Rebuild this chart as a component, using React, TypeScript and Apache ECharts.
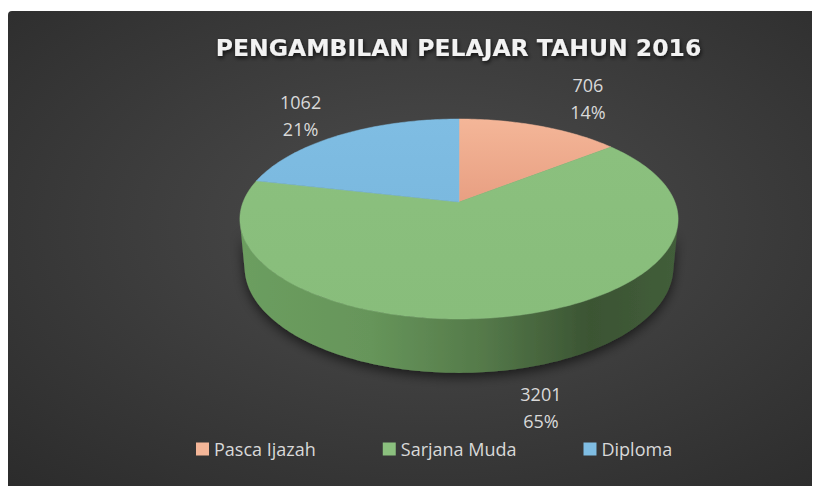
import { useEffect, useRef } from "react";
import * as echarts from "echarts";

const titleText = "PENGAMBILAN PELAJAR TAHUN 2016";
const categories = ["Pasca Ijazah", "Sarjana Muda", "Diploma"];
const values = [706, 3201, 1062];
const percentLabels = ["14%", "65%", "21%"];
const topColors = ["#f4b698", "#8bc07e", "#7fbde3"];
const topColorsDark = ["#e89f82", "#88bd7b", "#7bb9df"];
const sideColors = [
  ["#e39a7c", "#a8634a"],
  ["#6c9e5f", "#3b5433"],
  ["#6fa9cc", "#3f6a85"],
];

// perspective model of the 3D pie (chart coordinates)
const CX = 451;
const CY = 194;
const F = 1134;
const D = 5.252;
const SA = 0.4497;
const CA = 0.8932;
const T = 0.251;

function proj(theta: number, h: number): number[] {
  const X = Math.sin(theta);
  const Z = Math.cos(theta);
  const Y = h;
  const yp = Y * CA + Z * SA;
  const zp = -Y * SA + Z * CA;
  const k = F / (D + zp);
  return [CX + X * k, CY - yp * k];
}

function arcPts(a: number, b: number, h: number): number[][] {
  const n = Math.max(2, Math.ceil(((b - a) * 180) / Math.PI));
  const pts: number[][] = [];
  for (let i = 0; i <= n; i++) pts.push(proj(a + ((b - a) * i) / n, h));
  return pts;
}

export default function App() {
  const ref = useRef<HTMLDivElement>(null);
  useEffect(() => {
    if (!ref.current) return;
    const chart = echarts.init(ref.current, null, { renderer: "svg" });
    const total = values.reduce((s, v) => s + v, 0);
    const visA = Math.acos(-1 / (D * CA));
    const visB = 2 * Math.PI - visA;

    const makeRender = (idx: number) => (params: any, api: any) => {
      const v = api.value(0);
      const before = values.slice(0, idx).reduce((s, x) => s + x, 0);
      const a = (before / total) * Math.PI * 2;
      const b = a + (v / total) * Math.PI * 2;
      const children: any[] = [];
      const sa = Math.max(a, visA);
      const sb = Math.min(b, visB);
      if (sa < sb) {
        const top = arcPts(sa, sb, 0);
        const bot = arcPts(sa, sb, -T).reverse();
        children.push({
          type: "polygon",
          z2: 1,
          shape: { points: top.concat(bot) },
          style: {
            fill: {
              type: "linear",
              x: 0,
              y: 0,
              x2: 1,
              y2: 0,
              colorStops: [
                { offset: 0, color: sideColors[idx][0] },
                { offset: 0.3, color: idx === 1 ? "#66955a" : sideColors[idx][0] },
                { offset: 0.55, color: idx === 1 ? "#557a4a" : sideColors[idx][1] },
                { offset: 0.8, color: sideColors[idx][1] },
                { offset: 1, color: idx === 1 ? "#425e3a" : sideColors[idx][1] },
              ],
            },
            shadowBlur: 12,
            shadowColor: "rgba(0,0,0,0.6)",
            shadowOffsetY: 4,
          },
        });
      }
      const topPts = [[CX, CY]].concat(arcPts(a, b, 0));
      children.push({
        type: "polygon",
        z2: 2,
        shape: { points: topPts },
        style: {
          fill: {
            type: "linear",
            x: 0,
            y: 0,
            x2: 0,
            y2: 1,
            colorStops: [
              { offset: 0, color: topColors[idx] },
              { offset: 1, color: topColorsDark[idx] },
            ],
          },
          stroke: topColors[idx],
          lineWidth: 0.5,
        },
      });
      const mid = (a + b) / 2;
      const front = Math.cos(mid) < 0;
      const rim = proj(mid, front ? -T : 0);
      const dx = rim[0] - CX;
      const dy = rim[1] - CY;
      const len = Math.sqrt(dx * dx + dy * dy) || 1;
      children.push({
        type: "text",
        z2: 3,
        x: rim[0] + (dx / len) * 55 + 8,
        y: rim[1] + (dy / len) * 40,
        style: {
          text: v + "\n" + percentLabels[idx],
          fill: "#d9d9d9",
          fontSize: 18,
          fontFamily: "Open Sans",
          align: "center",
          verticalAlign: "middle",
          lineHeight: 27,
        },
      });
      return { type: "group", children };
    };

    chart.setOption({
      animation: false,
      graphic: [
        {
          type: "rect",
          z: -10,
          shape: { x: 0, y: 3, width: 812, height: 475, r: [4, 0, 0, 0] },
          style: {
            fill: {
              type: "radial",
              x: 0.52,
              y: 0.45,
              r: 0.95,
              colorStops: [
                { offset: 0, color: "#4d4d4d" },
                { offset: 1, color: "#232323" },
              ],
            },
          },
        },
        {
          type: "text",
          z: 100,
          x: 450.5,
          y: 40,
          style: {
            text: titleText,
            fill: "#f2f2f2",
            fontSize: 23.5,
            fontWeight: "bold",
            fontFamily: "DejaVu Sans",
            align: "center",
            verticalAlign: "middle",
            textShadowColor: "rgba(0,0,0,0.75)",
            textShadowBlur: 4,
            textShadowOffsetX: 1,
            textShadowOffsetY: 2,
          },
        },
      ],
      legend: {
        data: categories,
        left: 188,
        top: 432,
        padding: 0,
        icon: "rect",
        itemWidth: 13,
        itemHeight: 13,
        itemGap: 67,
        textStyle: { color: "#d9d9d9", fontSize: 18, fontFamily: "Open Sans" },
      },
      series: categories.map((name, i) => ({
        type: "custom",
        name,
        coordinateSystem: "none",
        itemStyle: { color: topColors[i] },
        renderItem: makeRender(i),
        data: [[values[i]]],
        silent: true,
      })),
    });
    return () => chart.dispose();
  }, []);
  return <div ref={ref} style={{ width: 812, height: 478 }} />;
}
